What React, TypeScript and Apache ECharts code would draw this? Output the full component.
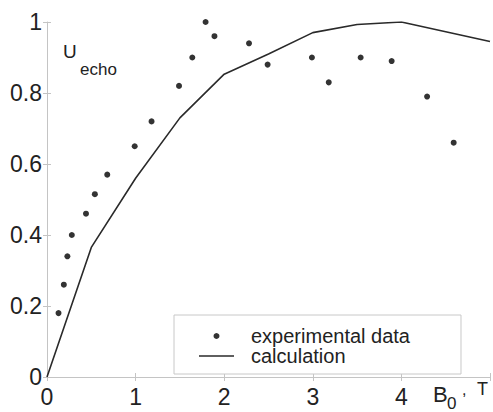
import React, { useEffect, useRef } from "react";
import * as echarts from "echarts";

const expX = [0.13, 0.19, 0.23, 0.28, 0.44, 0.54, 0.68, 0.99, 1.18, 1.49, 1.64, 1.79, 1.89, 2.28, 2.49, 2.99, 3.18, 3.54, 3.89, 4.29, 4.59];
const expY = [0.18, 0.26, 0.34, 0.40, 0.46, 0.515, 0.57, 0.65, 0.72, 0.82, 0.90, 1.0, 0.96, 0.94, 0.88, 0.90, 0.83, 0.90, 0.89, 0.79, 0.66];
const calcX = [0, 0.5, 1, 1.5, 2, 2.5, 3, 3.5, 4, 5];
const calcY = [0, 0.365, 0.56, 0.73, 0.853, 0.91, 0.97, 0.993, 1.0, 0.945];

const FONT = "Liberation Sans, Arial, sans-serif";
const AXIS_GRAY = "#c4c4c4";
const TEXT = "#222";

export default function App() {
  const ref = useRef<HTMLDivElement>(null);
  useEffect(() => {
    if (!ref.current) return;
    const chart = echarts.init(ref.current, null, { renderer: "svg" });
    const tickCommon = { show: true, inside: true, length: 4, lineStyle: { color: AXIS_GRAY } };
    const txt = (text: string, x: number, y: number, size: number) => ({
      type: "text", left: x, top: y,
      style: { text, fontSize: size, fontFamily: FONT, fill: TEXT },
    });
    chart.setOption({
      animation: false,
      backgroundColor: "#fff",
      grid: { left: 47, right: 0, top: 22, bottom: 35 },
      xAxis: [
        {
          type: "value", min: 0, max: 5, interval: 1, position: "bottom",
          axisLine: { show: true, lineStyle: { color: AXIS_GRAY, width: 1 } },
          axisTick: tickCommon,
          splitLine: { show: false },
          axisLabel: { color: TEXT, fontSize: 23, fontFamily: FONT, margin: 8,
            formatter: (v: number) => (v === 5 ? "" : String(v)) },
        },
        {
          type: "value", min: 0, max: 5, interval: 1, position: "top",
          axisLine: { show: true, lineStyle: { color: AXIS_GRAY, width: 1 } },
          axisTick: tickCommon,
          splitLine: { show: false },
          axisLabel: { show: false },
        },
      ],
      yAxis: [
        {
          type: "value", min: 0, max: 1, interval: 0.2, position: "left",
          axisLine: { show: true, lineStyle: { color: AXIS_GRAY, width: 1 } },
          axisTick: tickCommon,
          splitLine: { show: false },
          axisLabel: { color: TEXT, fontSize: 23, fontFamily: FONT, margin: 5 },
        },
        {
          type: "value", min: 0, max: 1, interval: 0.2, position: "right",
          axisLine: { show: false },
          axisTick: tickCommon,
          splitLine: { show: false },
          axisLabel: { show: false },
        },
      ],
      legend: {
        orient: "vertical",
        left: 174,
        top: 315,
        padding: [11, 51, 8, 25],
        itemGap: 0,
        itemWidth: 35,
        itemHeight: 6,
        borderColor: "#c8c8c8",
        borderWidth: 1,
        backgroundColor: "#fff",
        textStyle: { color: TEXT, fontSize: 20, fontFamily: FONT, lineHeight: 19, padding: [0, 0, 0, 12] },
        data: [
          { name: "experimental data", icon: "circle", itemStyle: { color: "#000" } },
          { name: "calculation", icon: "path://M0,0H35V1.6H0Z", itemStyle: { color: "#2a2a2a" } },
        ],
      },
      graphic: [
        txt("U", 63, 42, 19),
        txt("echo", 80, 61, 17),
        txt("B", 433, 383, 22),
        txt("0", 447, 395, 17),
        txt(",", 462, 381, 16),
        txt("T", 477, 380, 18),
      ],
      series: [
        {
          name: "experimental data",
          type: "scatter",
          symbol: "circle",
          symbolSize: 6,
          itemStyle: { color: "#000" },
          data: expX.map((x, i) => [x, expY[i]]),
          z: 3,
        },
        {
          name: "calculation",
          type: "line",
          symbol: "none",
          lineStyle: { color: "#2a2a2a", width: 1.6 },
          itemStyle: { color: "#2a2a2a" },
          data: calcX.map((x, i) => [x, calcY[i]]),
          z: 2,
        },
      ],
    });
    return () => chart.dispose();
  }, []);
  return <div ref={ref} style={{ width: 493, height: 412, position: "absolute", left: 0, top: 0 }} />;
}
